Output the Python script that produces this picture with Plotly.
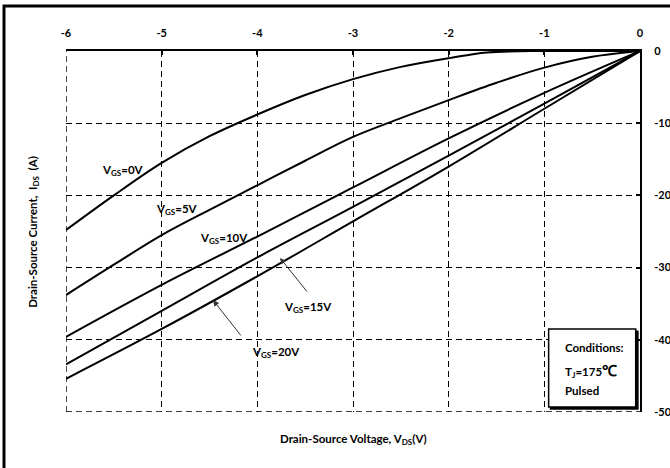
import plotly.graph_objects as go

# ---------------- data ----------------
vds = [0, -1, -2, -3, -4, -5, -6]
vds_fine = [0, -0.5, -1.0, -1.6, -2.0, -2.5, -3.0, -3.5, -4.0, -4.5, -5.0, -5.5, -6.0]
i_vgs0 = [0, 0, 0, -0.2, -1.0, -2.2, -3.9, -6.1, -8.8, -11.8, -15.5, -20.0, -24.8]
vds_5 = [0, -0.5, -1.0, -1.5, -2.0, -2.5, -3.0, -3.5, -4.0, -4.5, -5.0, -5.5, -6.0]
i_vgs5 = [0, -0.8, -2.3, -4.4, -6.8, -9.3, -11.9, -15.2, -18.6, -22.0, -25.5, -29.6, -33.8]
i_vgs10 = [0, -5.8, -12.1, -18.9, -25.7, -32.4, -39.6]
i_vgs15 = [0, -7.3, -14.5, -21.6, -28.6, -36.0, -43.4]
i_vgs20 = [0, -8.0, -16.0, -23.6, -31.2, -38.5, -45.4]

x_ticks = [-6, -5, -4, -3, -2, -1, 0]
y_ticks = [0, -10, -20, -30, -40, -50]

FONT = "Lato, 'Open Sans', Arial, sans-serif"

fig = go.Figure()
line_style = dict(color="black", width=2)
fig.add_trace(go.Scatter(x=vds_fine, y=i_vgs0, mode="lines", line=dict(line_style, shape="spline")))
fig.add_trace(go.Scatter(x=vds_5, y=i_vgs5, mode="lines", line=dict(line_style, shape="spline")))
fig.add_trace(go.Scatter(x=vds, y=i_vgs10, mode="lines", line=dict(line_style, shape="spline")))
fig.add_trace(go.Scatter(x=vds, y=i_vgs15, mode="lines", line=dict(line_style, shape="spline")))
fig.add_trace(go.Scatter(x=vds, y=i_vgs20, mode="lines", line=dict(line_style, shape="spline")))

fig.update_layout(
    width=670, height=468,
    margin=dict(l=66, r=30, t=51, b=56),
    paper_bgcolor="white", plot_bgcolor="white",
    showlegend=False,
    font=dict(family=FONT, size=11, color="black", weight="bold"),
)

GRID_DASH = "6px,4px"
fig.update_xaxes(
    range=[-6, 0], side="top", tickvals=x_ticks,
    ticktext=[str(v) for v in x_ticks],
    ticks="inside", ticklen=4, tickwidth=1.5, tickcolor="black",
    showline=True, linecolor="black", linewidth=2, mirror=False,
    showgrid=True, gridcolor="black", gridwidth=1.4, griddash=GRID_DASH,
    zeroline=False, ticklabelstandoff=8, automargin=False,
    tickfont=dict(family=FONT, size=11, color="black", weight="bold"),
)
fig.update_yaxes(
    range=[-50, 0], side="right", tickvals=y_ticks,
    ticktext=[str(v) for v in y_ticks],
    ticks="inside", ticklen=4, tickwidth=1.5, tickcolor="black",
    showline=True, linecolor="black", linewidth=2, mirror=False,
    showgrid=True, gridcolor="black", gridwidth=1.4, griddash=GRID_DASH,
    zeroline=False, ticklabelstandoff=10, automargin=False,
    tickfont=dict(family=FONT, size=11, color="black", weight="bold"),
)

# boundary grid lines (left and bottom) which plotly does not draw
fig.add_shape(type="line", xref="x", yref="paper", x0=x_ticks[0], x1=x_ticks[0], y0=0, y1=1,
              line=dict(color="black", width=1.4, dash=GRID_DASH), layer="below")
fig.add_shape(type="line", xref="paper", yref="y", x0=0, x1=1, y0=y_ticks[-1], y1=y_ticks[-1],
              line=dict(color="black", width=1.4, dash=GRID_DASH), layer="below")

# axis titles
fig.add_annotation(text="Drain-Source Voltage, V<sub>DS</sub>(V)", xref="paper", yref="paper",
                   x=0.5, y=-0.077, showarrow=False, xanchor="center", yanchor="middle",
                   font=dict(family=FONT, size=11.5, color="black", weight="bold"))
fig.add_annotation(text="Drain-Source Current,  I<sub>DS</sub>  (A)", xref="paper", yref="paper",
                   x=-0.057, y=0.5, showarrow=False, textangle=-90, xanchor="center", yanchor="middle",
                   font=dict(family=FONT, size=11.5, color="black", weight="bold"))

# curve labels
labels = [("V<sub>GS</sub>=0V", -5.40, -16.5), ("V<sub>GS</sub>=5V", -4.84, -22.0),
          ("V<sub>GS</sub>=10V", -4.35, -25.9), ("V<sub>GS</sub>=15V", -3.47, -35.5),
          ("V<sub>GS</sub>=20V", -3.80, -41.8)]
for t, x, y in labels:
    fig.add_annotation(text=t, x=x, y=y, showarrow=False, xanchor="center", yanchor="middle",
                       font=dict(family=FONT, size=11.5, color="black", weight="bold"))

# arrows
fig.add_annotation(x=-3.763, y=-28.67, ax=-3.47, ay=-33.5, axref="x", ayref="y", text="",
                   showarrow=True, arrowhead=2, arrowsize=1.2, arrowwidth=1, arrowcolor="#333333")
fig.add_annotation(x=-4.463, y=-34.5, ax=-4.16, ay=-39.6, axref="x", ayref="y", text="",
                   showarrow=True, arrowhead=2, arrowsize=1.2, arrowwidth=1, arrowcolor="#333333")

# conditions box (shadow + box)
fig.add_shape(type="rect", x0=-0.935, x1=-0.022, y0=-49.6, y1=-38.8, xref="x", yref="y",
              line=dict(color="black", width=1.5), fillcolor="black", layer="above")
fig.add_shape(type="rect", x0=-0.955, x1=-0.045, y0=-49.3, y1=-38.5, xref="x", yref="y",
              line=dict(color="black", width=1.5), fillcolor="white", layer="above")
fig.add_annotation(text="Conditions:", x=-0.805, y=-41.1, showarrow=False, xanchor="left",
                   yanchor="middle", font=dict(family=FONT, size=11.5, color="black", weight="bold"))
fig.add_annotation(text="T<sub>J</sub>=175<span style='font-size:15px'>℃</span>", x=-0.805, y=-44.2,
                   showarrow=False, xanchor="left", yanchor="middle",
                   font=dict(family=FONT, size=11.5, color="black", weight="bold"))
fig.add_annotation(text="Pulsed", x=-0.805, y=-47.0, showarrow=False, xanchor="left",
                   yanchor="middle", font=dict(family=FONT, size=11.5, color="black", weight="bold"))

# outer frame
fig.add_shape(type="rect", xref="paper", yref="paper", x0=-0.108, x1=1.08, y0=-0.2, y1=1.125,
              line=dict(color="black", width=3), fillcolor="rgba(0,0,0,0)", layer="above")

fig.write_html("out.html")
